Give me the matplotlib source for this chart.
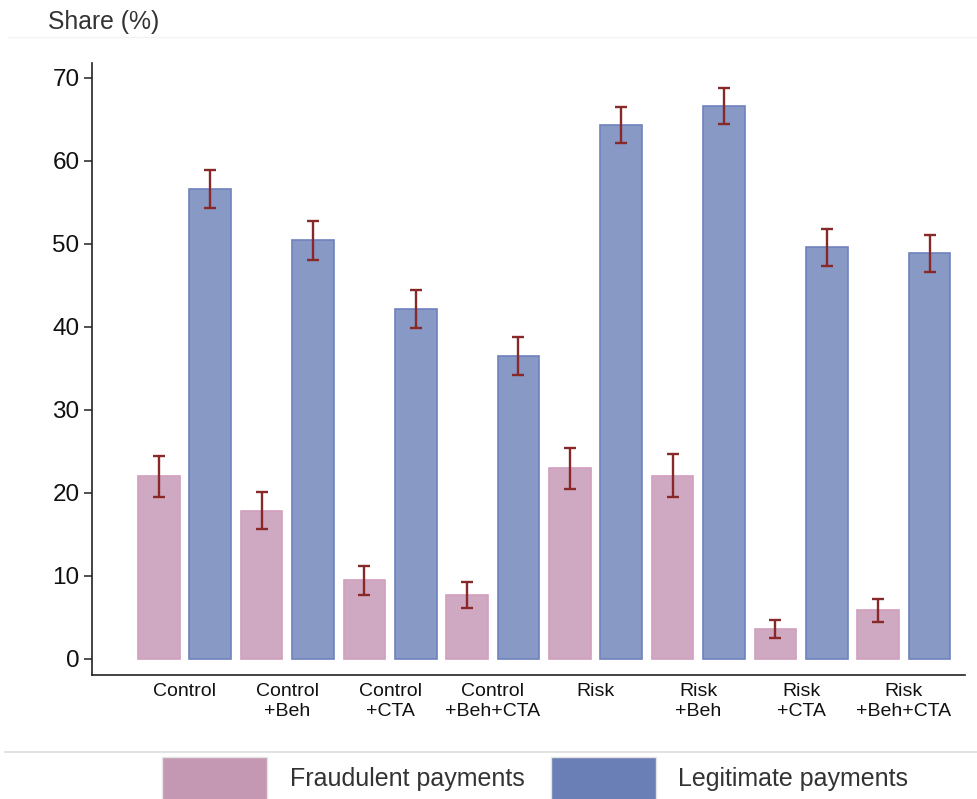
import matplotlib
matplotlib.use("Agg")
import matplotlib.pyplot as plt
from matplotlib.patches import Rectangle
from matplotlib.lines import Line2D
import numpy as np

plt.rcParams['font.family'] = ['Liberation Sans', 'DejaVu Sans']

groups = ["Control", "Control\n+Beh", "Control\n+CTA", "Control\n+Beh+CTA",
          "Risk", "Risk\n+Beh", "Risk\n+CTA", "Risk\n+Beh+CTA"]
fraud = [22.0, 17.85, 9.5, 7.7, 22.95, 22.1, 3.6, 5.85]
fraud_err = [2.5, 2.25, 1.75, 1.55, 2.5, 2.55, 1.1, 1.35]
legit = [56.6, 50.45, 42.2, 36.5, 64.35, 66.6, 49.6, 48.85]
legit_err = [2.3, 2.35, 2.3, 2.3, 2.15, 2.2, 2.25, 2.25]
series_names = ["Fraudulent payments", "Legitimate payments"]
yticks = [0, 10, 20, 30, 40, 50, 60, 70]

fraud_fill, fraud_edge, fraud_leg = "#CFA9C2", "#D29FBE", "#C497B2"
legit_fill, legit_edge, legit_leg = "#8799C4", "#6E82BF", "#6A7FB6"
err_col = "#882828"

fig = plt.figure(figsize=(9.77, 7.99), dpi=100)
ax = fig.add_axes([92/977, (799-675)/799, (965-92)/977, (675-63)/799])

idx = np.arange(len(groups))
xf = idx * 2
xl = idx * 2 + 1
w = 0.81
ax.bar(xf, fraud, width=w, color=fraud_fill, edgecolor=fraud_edge, linewidth=1.2, zorder=2)
ax.bar(xl, legit, width=w, color=legit_fill, edgecolor=legit_edge, linewidth=1.2, zorder=2)
ax.errorbar(xf, fraud, yerr=fraud_err, fmt='none', ecolor=err_col, elinewidth=1.7,
            capsize=4.6, capthick=1.7, zorder=3)
ax.errorbar(xl, legit, yerr=legit_err, fmt='none', ecolor=err_col, elinewidth=1.7,
            capsize=4.6, capthick=1.7, zorder=3)

ax.set_xlim(-1.30, 15.69)
ax.set_ylim(-1.93, 71.8)
ax.set_yticks(yticks)
ax.set_yticklabels([str(v) for v in yticks], fontsize=17.5, color="#111111")
ax.set_xticks(idx * 2 + 0.5)
ax.set_xticklabels(groups, fontsize=14, color="#111111", linespacing=1.2)
ax.tick_params(axis='x', length=0, pad=6)
ax.tick_params(axis='y', length=6, width=1.1, pad=3, color="#222222")
for s in ["top", "right"]:
    ax.spines[s].set_visible(False)
for s in ["left", "bottom"]:
    ax.spines[s].set_linewidth(1.2)
    ax.spines[s].set_color("#222222")

# title
fig.text(48/977, 1 - 22/799, "Share (%)", fontsize=17.8, color="#333333", ha="left", va="center")
# faint line under title
fig.add_artist(Line2D([8/977, 1.0], [1 - 37/799, 1 - 37/799], color="#f3f3f3", lw=1))
# legend separator
fig.add_artist(Line2D([5/977, 1.0], [1 - 752/799, 1 - 752/799], color="#dddddd", lw=1.2))

# legend
for (x0, col, name, tx) in [(162, fraud_leg, series_names[0], 290), (551, legit_leg, series_names[1], 678)]:
    fig.add_artist(Rectangle((x0/977, -0.02), 105/977, (799-757)/799 + 0.02,
                             transform=fig.transFigure, facecolor=col, edgecolor="#e4e4e4", lw=1))
    fig.text(tx/977, 1 - 779/799, name, fontsize=18, color="#333333", ha="left", va="center")

fig.savefig("out.png", dpi=100)
